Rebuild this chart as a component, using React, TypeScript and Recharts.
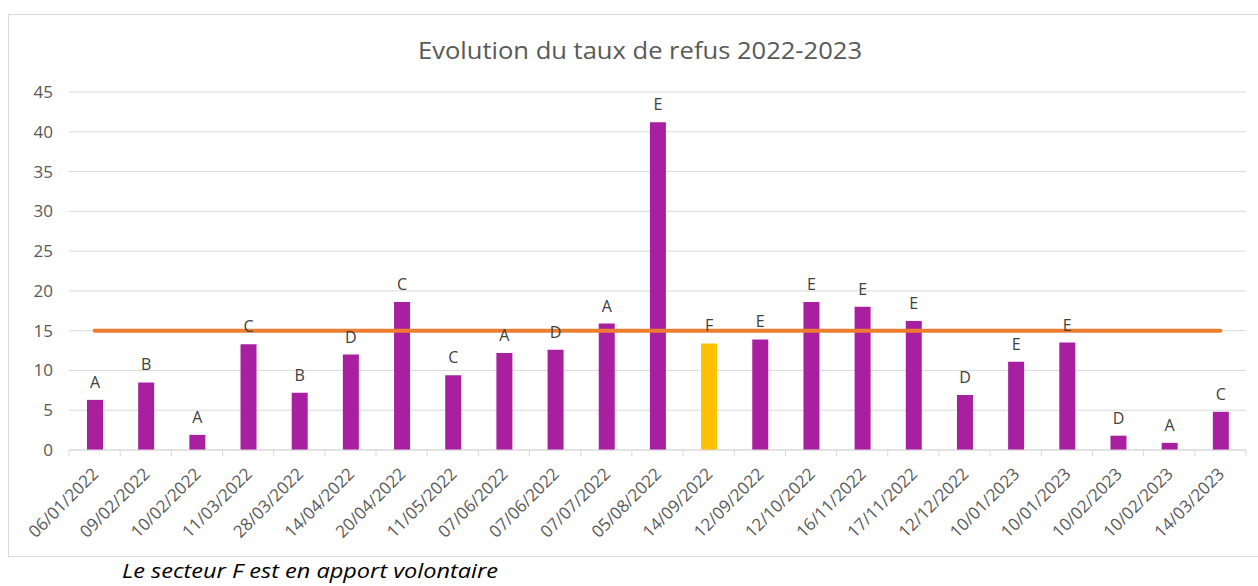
import React from "react";
import {
  ComposedChart,
  Bar,
  Line,
  XAxis,
  YAxis,
  CartesianGrid,
  Cell,
  LabelList,
} from "recharts";

const dates = [
  "06/01/2022", "09/02/2022", "10/02/2022", "11/03/2022", "28/03/2022", "14/04/2022",
  "20/04/2022", "11/05/2022", "07/06/2022", "07/06/2022", "07/07/2022", "05/08/2022",
  "14/09/2022", "12/09/2022", "12/10/2022", "16/11/2022", "17/11/2022", "12/12/2022",
  "10/01/2023", "10/01/2023", "10/02/2023", "10/02/2023", "14/03/2023",
];
const secteurs = [
  "A", "B", "A", "C", "B", "D", "C", "C", "A", "D", "A", "E",
  "F", "E", "E", "E", "E", "D", "E", "E", "D", "A", "C",
];
const tauxRefus = [
  6.3, 8.5, 1.9, 13.3, 7.2, 12.0, 18.6, 9.4, 12.2, 12.6, 15.9, 41.2,
  13.4, 13.9, 18.6, 18.0, 16.2, 6.9, 11.1, 13.5, 1.8, 0.9, 4.8,
];
const seuil = 15;
const yTicks = [0, 5, 10, 15, 20, 25, 30, 35, 40, 45];

const data = dates.map((d, i) => ({
  date: d,
  taux: tauxRefus[i],
  secteur: secteurs[i],
  seuil,
}));

const W = 1258;
const H = 586;
const PLOT_LEFT = 69;
const PLOT_RIGHT = 1246;
const BAND = (PLOT_RIGHT - PLOT_LEFT) / dates.length;
const FONT = "'Open Sans', 'Noto Sans', sans-serif";

const DateTick = (props: any) => {
  const { x, y, payload, index } = props;
  const tx = x + 5;
  const ty = y + 25;
  return (
    <g>
      <line x1={x - BAND / 2} y1={y} x2={x - BAND / 2} y2={y + 6} stroke="#D9D9D9" />
      {index === dates.length - 1 && (
        <line x1={x + BAND / 2} y1={y} x2={x + BAND / 2} y2={y + 6} stroke="#D9D9D9" />
      )}
      <text
        x={tx}
        y={ty}
        transform={`rotate(-45, ${tx}, ${ty})`}
        textAnchor="end"
        fill="#595959"
        fontSize={17}
        fontFamily={FONT}
      >
        {payload.value}
      </text>
    </g>
  );
};

export default function App() {
  return (
    <div style={{ position: "absolute", left: 0, top: 0, width: W, height: H, background: "#fff" }}>
      <div
        style={{
          position: "absolute",
          left: 8,
          top: 14,
          width: 1260,
          height: 543,
          border: "1px solid #D9D9D9",
          boxSizing: "border-box",
        }}
      />
      <ComposedChart
        width={W}
        height={H}
        data={data}
        margin={{ top: 92, right: W - PLOT_RIGHT, bottom: 0, left: 0 }}
        style={{ position: "absolute", left: 0, top: 0 }}
      >
        <CartesianGrid vertical={false} stroke="#D9D9D9" />
        <XAxis
          dataKey="date"
          interval={0}
          height={136}
          tickSize={0}
          tickMargin={0}
          tickLine={false}
          axisLine={{ stroke: "#D9D9D9" }}
          tick={<DateTick />}
        />
        <YAxis
          width={PLOT_LEFT}
          domain={[0, 45]}
          ticks={yTicks}
          axisLine={false}
          tickLine={false}
          tickMargin={10}
          tick={{ fill: "#595959", fontSize: 17, fontFamily: FONT }}
        />
        <Bar dataKey="taux" barSize={16} isAnimationActive={false}>
          {data.map((d, i) => (
            <Cell key={i} fill={d.secteur === "F" ? "#FFC000" : "#A8209F"} />
          ))}
          <LabelList
            dataKey="secteur"
            position="top"
            offset={12}
            fill="#404040"
            fontSize={16}
            fontFamily={FONT}
          />
        </Bar>
        <Line
          dataKey="seuil"
          stroke="#ED7D31"
          strokeWidth={4}
          strokeLinecap="round"
          dot={false}
          activeDot={false}
          isAnimationActive={false}
        />
      </ComposedChart>
      <svg width={W} height={H} style={{ position: "absolute", left: 0, top: 0, pointerEvents: "none" }}>
        <text
          x={418}
          y={59}
          textLength={444}
          lengthAdjust="spacingAndGlyphs"
          fill="#595959"
          fontSize={24}
          fontFamily={FONT}
        >
          Evolution du taux de refus 2022-2023
        </text>
        <text
          x={122}
          y={578}
          textLength={376}
          lengthAdjust="spacingAndGlyphs"
          fill="#000"
          fontSize={20}
          fontStyle="italic"
          fontFamily={FONT}
        >
          Le secteur F est en apport volontaire
        </text>
      </svg>
    </div>
  );
}
